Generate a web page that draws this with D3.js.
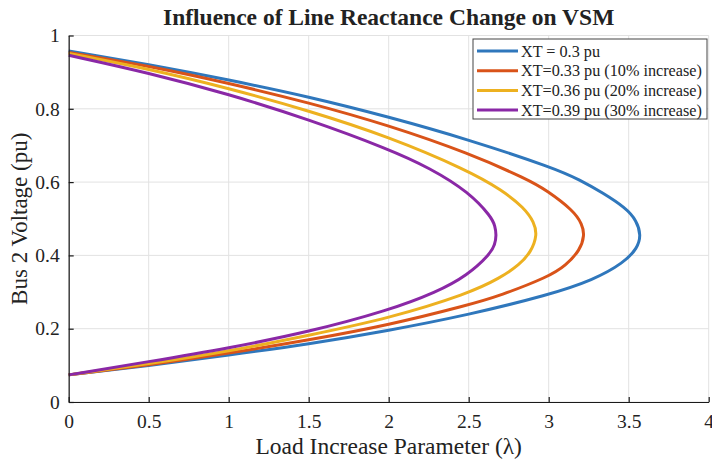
<!DOCTYPE html>
<html>
<head>
<meta charset="utf-8">
<script src="https://cdn.jsdelivr.net/npm/d3@7"></script>
<style>
  body { margin: 0; background: #fff; }
  text { font-family: "Liberation Serif", "Times New Roman", serif; fill: #222; }
</style>
</head>
<body>
<svg id="chart" width="712" height="461"></svg>
<script>
// P-V nose curves, listed from the lower branch up through the nose to the upper branch
const vXT30   = [0.074, 0.099, 0.128, 0.158, 0.195, 0.238, 0.292, 0.333, 0.380, 0.420, 0.455, 0.495, 0.530, 0.570, 0.606, 0.638, 0.716, 0.778, 0.833, 0.879, 0.921, 0.958];
const lamXT30 = [0, 0.5, 1, 1.5, 2, 2.5, 3, 3.28, 3.47, 3.555, 3.577, 3.55, 3.48, 3.34, 3.195, 3.035, 2.5, 2, 1.5, 1, 0.5, 0];

const vXT33   = [0.074, 0.101, 0.133, 0.169, 0.210, 0.265, 0.290, 0.342, 0.372, 0.415, 0.455, 0.485, 0.523, 0.578, 0.606, 0.679, 0.755, 0.817, 0.870, 0.917, 0.954];
const lamXT33 = [0, 0.5, 1, 1.5, 2, 2.5, 2.695, 3, 3.106, 3.197, 3.224, 3.21, 3.153, 2.985, 2.875, 2.5, 2, 1.5, 1, 0.5, 0];

const vXT36   = [0.074, 0.104, 0.138, 0.182, 0.228, 0.296, 0.338, 0.375, 0.410, 0.455, 0.490, 0.530, 0.578, 0.633, 0.724, 0.795, 0.856, 0.909, 0.951];
const lamXT36 = [0, 0.5, 1, 1.5, 2, 2.5, 2.695, 2.819, 2.89, 2.928, 2.91, 2.846, 2.71, 2.49, 2, 1.5, 1, 0.5, 0];

const vXT39   = [0.074, 0.110, 0.147, 0.191, 0.250, 0.300, 0.345, 0.404, 0.430, 0.455, 0.480, 0.505, 0.573, 0.638, 0.690, 0.771, 0.840, 0.898, 0.946];
const lamXT39 = [0, 0.5, 1, 1.5, 2, 2.3, 2.49, 2.635, 2.664, 2.673, 2.665, 2.642, 2.5, 2.26, 2, 1.5, 1, 0.5, 0];

const seriesNames = ["XT = 0.3 pu", "XT=0.33 pu (10% increase)", "XT=0.36 pu (20% increase)", "XT=0.39 pu (30% increase)"];
const seriesColors = ["#2f77bc", "#d95319", "#edb120", "#8a28a6"];
const xTicks = [0, 0.5, 1, 1.5, 2, 2.5, 3, 3.5, 4];
const yTicks = [0, 0.2, 0.4, 0.6, 0.8, 1];

const series = [
  { lam: lamXT30, v: vXT30 },
  { lam: lamXT33, v: vXT33 },
  { lam: lamXT36, v: vXT36 },
  { lam: lamXT39, v: vXT39 }
].map((s, i) => ({
  name: seriesNames[i],
  color: seriesColors[i],
  pts: d3.sort(s.lam.map((l, j) => [l, s.v[j]]), d => -d[1])
}));

const margin = { left: 68.7, right: 3.3, top: 35.5, bottom: 59 };
const W = 712, H = 461;
const iw = W - margin.left - margin.right;
const ih = H - margin.top - margin.bottom;

const svg = d3.select("#chart");
const g = svg.append("g").attr("transform", `translate(${margin.left},${margin.top})`);

const x = d3.scaleLinear().domain([0, 4]).range([0, iw]);
const y = d3.scaleLinear().domain([0, 1]).range([ih, 0]);

// grid
g.append("g").selectAll("line").data(xTicks).join("line")
  .attr("x1", d => x(d)).attr("x2", d => x(d))
  .attr("y1", 0).attr("y2", ih)
  .attr("stroke", "#e2e2e2").attr("stroke-width", 1);
g.append("g").selectAll("line").data(yTicks).join("line")
  .attr("x1", 0).attr("x2", iw)
  .attr("y1", d => y(d)).attr("y2", d => y(d))
  .attr("stroke", "#e2e2e2").attr("stroke-width", 1);

// curves, smoothed B-spline through the sampled points
const line = d3.line()
  .x(d => x(d[0]))
  .y(d => y(d[1]))
  .curve(d3.curveBasis);

g.append("g").selectAll("path").data(series).join("path")
  .attr("fill", "none")
  .attr("stroke", d => d.color)
  .attr("stroke-width", 3)
  .attr("stroke-linejoin", "round")
  .attr("d", d => line(d.pts));

// axes, ticks pointing inward
const xAxis = g.append("g").attr("transform", `translate(0,${ih})`)
  .call(d3.axisBottom(x).tickValues(xTicks).tickFormat(d3.format("")).tickSizeInner(-5).tickSizeOuter(0).tickPadding(12));
const yAxis = g.append("g")
  .call(d3.axisLeft(y).tickValues(yTicks).tickFormat(d3.format("")).tickSizeInner(-5).tickSizeOuter(0).tickPadding(9));

[xAxis, yAxis].forEach(a => {
  a.select(".domain").attr("stroke", "#1a1a1a").attr("stroke-width", 1.2);
  a.selectAll(".tick line").attr("stroke", "#1a1a1a").attr("stroke-width", 1.2);
  a.selectAll(".tick text")
    .attr("font-family", "'Liberation Serif', serif")
    .attr("font-size", 19.5)
    .attr("fill", "#222");
});
xAxis.selectAll(".tick text").attr("dy", "0.7em");

// titles
svg.append("text")
  .attr("x", margin.left + iw / 2).attr("y", 25)
  .attr("text-anchor", "middle")
  .attr("font-size", 23.5).attr("font-weight", "bold")
  .text("Influence of Line Reactance Change on VSM");

svg.append("text")
  .attr("x", margin.left + iw / 2).attr("y", 454)
  .attr("text-anchor", "middle")
  .attr("font-size", 23.5)
  .text("Load Increase Parameter (λ)");

svg.append("text")
  .attr("transform", `translate(27,${margin.top + ih / 2}) rotate(-90)`)
  .attr("text-anchor", "middle")
  .attr("font-size", 23)
  .text("Bus 2 Voltage (pu)");

// legend
const lg = svg.append("g").attr("transform", "translate(473,39)");
lg.append("rect")
  .attr("width", 234).attr("height", 80)
  .attr("fill", "#fff").attr("stroke", "#444").attr("stroke-width", 1);
const rows = lg.selectAll("g.row").data(series).join("g")
  .attr("class", "row")
  .attr("transform", (d, i) => `translate(0,${12 + i * 19.7})`);
rows.append("line")
  .attr("x1", 4).attr("x2", 45)
  .attr("stroke", d => d.color).attr("stroke-width", 3);
rows.append("text")
  .attr("x", 48).attr("dy", "0.35em")
  .attr("font-size", 16.2)
  .text(d => d.name);
</script>
</body>
</html>
